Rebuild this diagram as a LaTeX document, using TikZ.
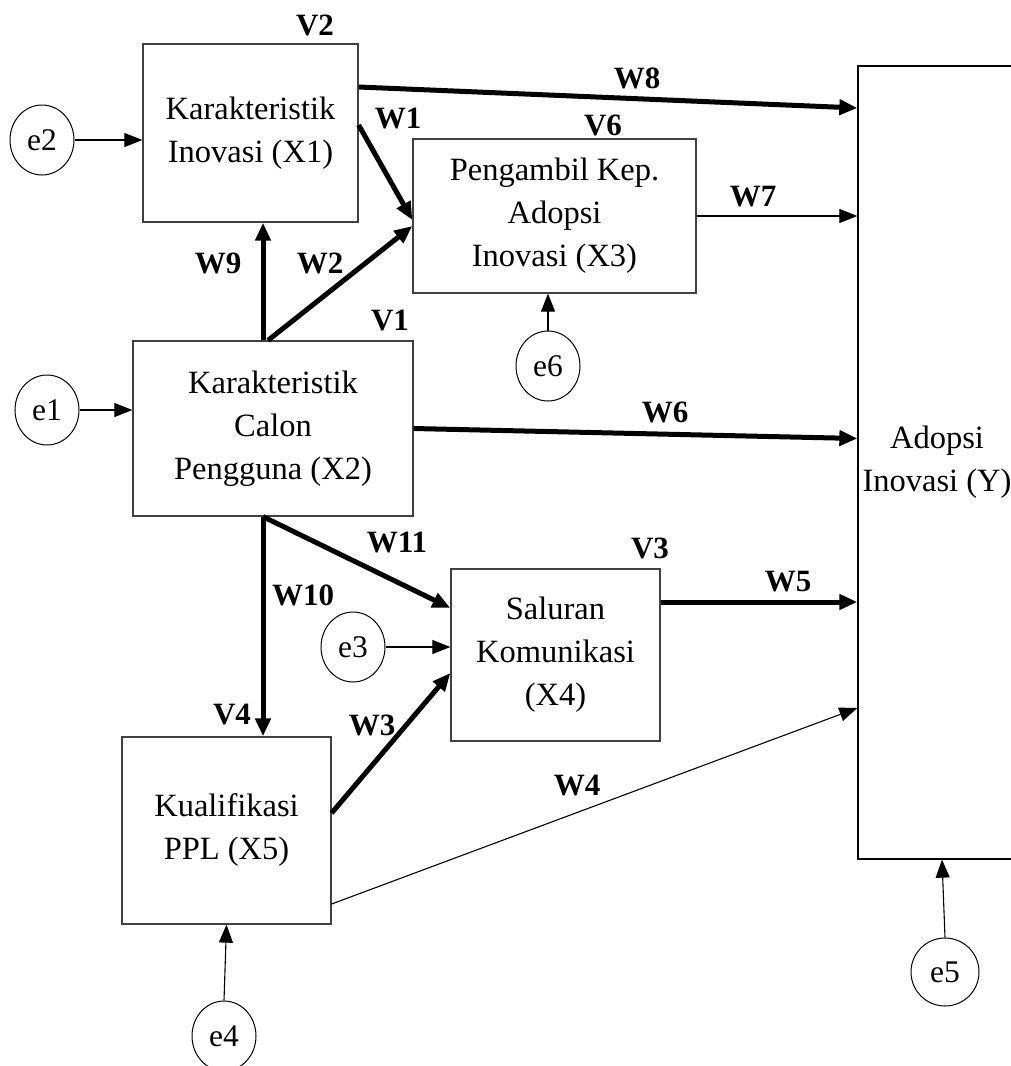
\documentclass[tikz,border=0pt]{standalone}
\usepackage{fontspec}
\setmainfont{Liberation Serif}
\usetikzlibrary{arrows.meta,shapes.geometric}
\begin{document}
\begin{tikzpicture}[x=1pt,y=-1pt,
  box/.style={draw=black!75, line width=1.3pt, align=center, inner sep=0pt,
    font=\fontsize{32.5}{43}\selectfont},
  err/.style={draw, ellipse, line width=1pt, minimum width=64pt, minimum height=70pt,
    inner sep=0pt, font=\fontsize{31.5}{36}\selectfont},
  lbl/.style={font=\fontsize{31}{36}\selectfont\bfseries, inner sep=0pt},
  lnthin/.style={line width=1.1pt, -{Triangle[length=18pt,width=14pt]}},
  lnthick/.style={line width=5pt, -{Triangle[length=18pt,width=15pt]}}
]
\useasboundingbox (0,0) rectangle (1011,1066);

% boxes
\node[box, minimum width=215pt, minimum height=178pt] (x1) at (250.5,133) {Karakteristik\\Inovasi (X1)};
\node[box, minimum width=280pt, minimum height=175pt] (x2) at (273,428.5) {Karakteristik\\Calon\\Pengguna (X2)};
\node[box, minimum width=283pt, minimum height=154pt] (x3) at (554.5,216) {Pengambil Kep.\\Adopsi\\Inovasi (X3)};
\node[box, minimum width=209pt, minimum height=172pt] (x4) at (555.5,655) {Saluran\\Komunikasi\\(X4)};
\node[box, minimum width=209pt, minimum height=187pt] (x5) at (226.5,830.5) {Kualifikasi\\PPL (X5)};
\node[box, draw=black, minimum width=158pt, minimum height=793pt] (y) at (937,462.5) {Adopsi\\Inovasi (Y)};

% error terms
\node[err] (e2) at (42,140) {e2};
\node[err] (e1) at (47,410) {e1};
\node[err] (e6) at (548,366) {e6};
\node[err] (e3) at (353,647) {e3};
\node[err] (e4) at (224,1036) {e4};
\node[err, minimum width=68pt, minimum height=68pt] (e5) at (945,972) {e5};

% labels
\node[lbl] (v2) at (315,25) {V2};
\node[lbl] (v1) at (390,320) {V1};
\node[lbl] (v6) at (603,125) {V6};
\node[lbl] (v3) at (650,548) {V3};
\node[lbl] (v4) at (232,715) {V4};
\node[lbl] (w1) at (398,118) {W1};
\node[lbl] (w2) at (320,263) {W2};
\node[lbl] (w3) at (372,725) {W3};
\node[lbl] (w4) at (577,786) {W4};
\node[lbl] (w5) at (788,582) {W5};
\node[lbl] (w6) at (665,412) {W6};
\node[lbl] (w7) at (753,197) {W7};
\node[lbl] (w8) at (637,78) {W8};
\node[lbl] (w9) at (218,263) {W9};
\node[lbl] (w10) at (303,595) {W10};
\node[lbl] (w11) at (397,542) {W11};

% error arrows
\draw[lnthin] (e2.east) -- (e2.east -| x1.west);
\draw[lnthin] (e1.east) -- (e1.east -| x2.west);
\draw[lnthin] (e3.east) -- (e3.east -| x4.west);
\draw[lnthin] (e6.north) -- (e6.north |- x3.south);
\draw[lnthin] (e4.north) -- (x5.south);
\draw[lnthin] (e5.north) -- ([xshift=5pt]y.south);

% paths
\draw[lnthick] ([xshift=-10pt]x2.north) -- ([xshift=12.5pt]x1.south);
\draw[lnthick] ([xshift=-5pt]x2.north) -- ([yshift=-10pt]x3.west);
\draw[lnthick] ([yshift=8pt]x1.east) -- ([yshift=-4pt]x3.west);
\draw[lnthick] ([yshift=46pt]x1.east) -- ([yshift=354.5pt]y.west);
\draw[lnthin] (x3.east) -- (x3.east -| y.west);
\draw[lnthick] (x2.east) -- ([yshift=24pt]y.west);
\draw[lnthick] ([xshift=-10pt]x2.south) -- ([xshift=-10pt]x2.south |- x5.north);
\draw[lnthick] ([xshift=-10pt]x2.south) -- ([yshift=47pt]x4.west);
\draw[lnthick] ([yshift=53pt]x4.east) -- ([yshift=53pt]x4.east -| y.west);
\draw[lnthick] ([yshift=17.5pt]x5.east) -- ([yshift=-18pt]x4.west);
\draw[lnthin] ([yshift=-73.5pt]x5.east) -- ([yshift=-245.5pt]y.west);
\end{tikzpicture}
\end{document}
